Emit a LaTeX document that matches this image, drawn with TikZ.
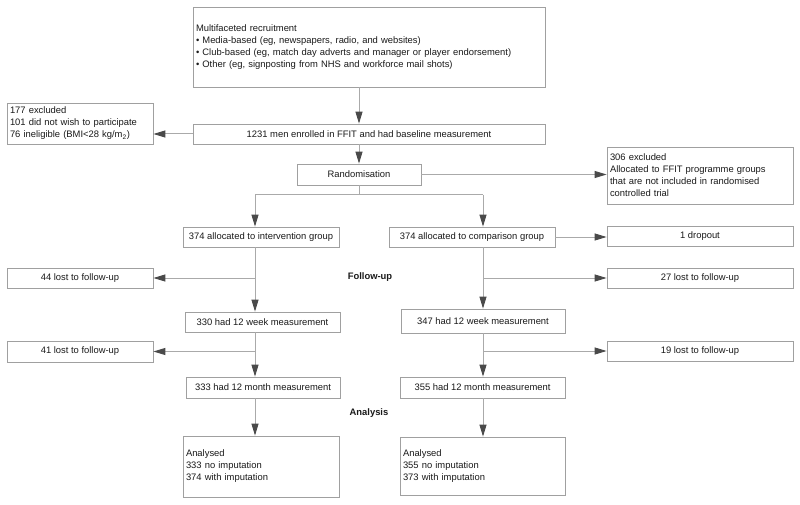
\documentclass[tikz,border=0pt]{standalone}
\usepackage{fontspec}
\setmainfont{Liberation Sans}
\usetikzlibrary{arrows.meta}
\definecolor{boxgray}{HTML}{A0A0A0}
\definecolor{linegray}{HTML}{AAAAAA}
\definecolor{tipgray}{HTML}{4A4A4A}
\definecolor{txt}{HTML}{1A1A1A}
\newcommand{\fs}{\fontsize{9.4}{12}\selectfont}
\tikzset{
  base/.style={draw=boxgray, line width=0.8pt, font=\fs, text=txt, inner ysep=0pt},
  cbox/.style={base, align=center, inner xsep=0pt},
  lbox/.style={base, align=left, inner xsep=3pt},
  arr/.style={draw=linegray, line width=1pt, -{Triangle[length=12pt,width=7pt,color=tipgray]}},
  ln/.style={draw=linegray, line width=1pt},
  lab/.style={font=\fs\bfseries, text=txt}
}
\begin{document}
\begin{tikzpicture}[x=1pt,y=-1pt]
\useasboundingbox (0,0) rectangle (800,505);
\fill[white] (0,0) rectangle (800,505);
% boxes
\node[lbox, text width=346pt, minimum height=80pt] (top) at (369,47)
  {Multifaceted recruitment\\
   • Media-based (eg, newspapers, radio, and websites)\\
   • Club-based (eg, match day adverts and manager or player endorsement)\\
   • Other (eg, signposting from NHS and workforce mail shots)};
\node[cbox, minimum width=352pt, minimum height=20pt] (enr) at (369,134)
  {1231 men enrolled in FFIT and had baseline measurement};
\node[lbox, text width=140pt, minimum height=41pt] (excl) at (80,123.5)
  {177 excluded\\101 did not wish to participate\\76 ineligible (BMI<28 kg/m\textsubscript{2})};
\node[cbox, minimum width=124pt, minimum height=21pt] (rand) at (359,174.5) {Randomisation};
\node[lbox, text width=180pt, minimum height=57pt] (ex2) at (700,175.5)
  {306 excluded\\Allocated to FFIT programme groups\\that are not included in randomised\\controlled trial};
\node[cbox, minimum width=156pt, minimum height=20pt] (int) at (261,237) {374 allocated to intervention group};
\node[cbox, minimum width=166pt, minimum height=20pt] (comp) at (472,237) {374 allocated to comparison group};
\node[cbox, minimum width=186pt, minimum height=20pt] (drop) at (700,236) {1 dropout};
\node[cbox, minimum width=146pt, minimum height=20pt] (l44) at (80,278) {44 lost to follow-up};
\node[cbox, minimum width=186pt, minimum height=20pt] (l27) at (700,278) {27 lost to follow-up};
\node[cbox, minimum width=155pt, minimum height=20pt] (w330) at (262.5,322) {330 had 12 week measurement};
\node[cbox, minimum width=164pt, minimum height=24pt] (w347) at (483,321) {347 had 12 week measurement};
\node[cbox, minimum width=146pt, minimum height=21pt] (l41) at (80,351.5) {41 lost to follow-up};
\node[cbox, minimum width=186pt, minimum height=20pt] (l19) at (700,351) {19 lost to follow-up};
\node[cbox, minimum width=154pt, minimum height=21pt] (m333) at (263,387.5) {333 had 12 month measurement};
\node[cbox, minimum width=165pt, minimum height=21pt] (m355) at (482.5,387.5) {355 had 12 month measurement};
\node[lbox, text width=150pt, minimum height=61pt] (anL) at (261,466.5)
  {Analysed\\333 no imputation\\374 with imputation};
\node[lbox, text width=159pt, minimum height=58pt] (anR) at (482.5,466)
  {Analysed\\355 no imputation\\373 with imputation};
\node[lab] (fu) at (370,277) {Follow-up};
\node[lab] (an) at (369,413) {Analysis};
% column coordinates
\coordinate (colL) at (255,195);
\coordinate (colR) at (483,195);
% connectors
\draw[arr] (top.south -| rand.north) -- (enr.north -| rand.north);
\draw[arr] (enr.west) -- (enr.west -| excl.east);
\draw[arr] (enr.south -| rand.north) -- (rand.north);
\draw[arr] (rand.east) -- (rand.east -| ex2.west);
\draw[ln] (rand.south) -- (rand.south |- colL);
\draw[ln] (colL) -- (colR);
\draw[arr] (colL) -- (colL |- int.north);
\draw[arr] (colR) -- (colR |- comp.north);
\draw[arr] (comp.east) -- (comp.east -| drop.west);
\draw[arr] (colL |- int.south) -- (colL |- w330.north);
\draw[arr] (colL |- l44.east) -- (l44.east);
\draw[arr] (colR |- comp.south) -- (colR |- w347.north);
\draw[arr] (colR |- l27.west) -- (l27.west);
\draw[arr] (colL |- w330.south) -- (colL |- m333.north);
\draw[arr] (colL |- l41.east) -- (l41.east);
\draw[arr] (colR |- w347.south) -- (colR |- m355.north);
\draw[arr] (colR |- l19.west) -- (l19.west);
\draw[arr] (colL |- m333.south) -- (colL |- anL.north);
\draw[arr] (colR |- m355.south) -- (colR |- anR.north);
\end{tikzpicture}
\end{document}
